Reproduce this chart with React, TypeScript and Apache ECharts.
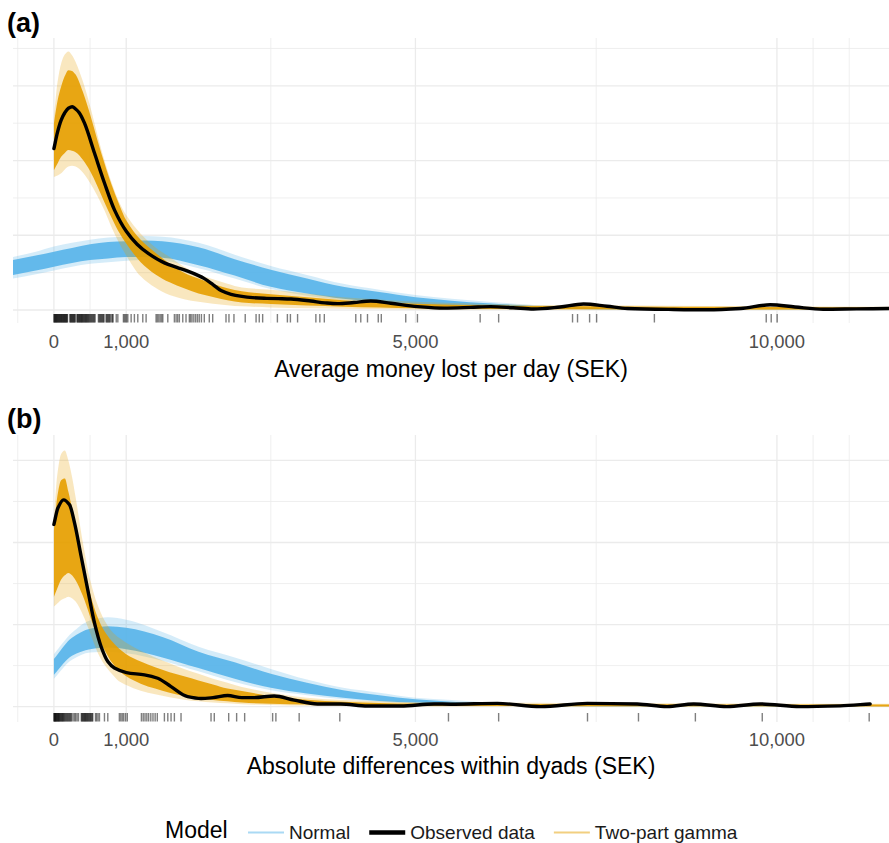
import React, { useEffect, useRef } from "react";
import * as echarts from "echarts";

const FONT = "'Liberation Sans', Arial, Helvetica, sans-serif";

// Axis ranges (SEK on x, density in arbitrary units on y)
const X_RANGE = [-566, 11550];
const Y_RANGE_A = [-0.174, 3.64];
const Y_RANGE_B = [-0.187, 3.31];

// Tick labels and grid breaks
const X_LABELS = [0, 1000, 5000, 10000];
const X_MINOR = [-500, 500, 3000, 7500, 10500, 11000];
const Y_MAJOR = [0, 1, 2, 3];
const Y_MINOR_A = [0.5, 1.5, 2.5, 3.5];
const Y_MINOR_B = [0.5, 1.5, 2.5];

// ---------- Panel (a): Average money lost per day ----------
const A_OBS_X = [0, 50, 100, 150, 200, 253, 300, 350, 423, 561, 699, 837, 1003, 1150, 1300, 1528, 1700, 1851, 2000, 2081, 2200, 2311, 2450, 2577, 2750, 2909, 3100, 3278, 3554, 3750, 3922, 4150, 4382, 4659, 5028, 5396, 5764, 6040, 6350, 6634, 7000, 7325, 7650, 7932, 8500, 9037, 9500, 9907, 10250, 10639, 11100, 11550];
const A_OBS_Y = [2.16, 2.38, 2.54, 2.64, 2.7, 2.72, 2.69, 2.64, 2.5, 2.1, 1.7, 1.34, 1.05, 0.88, 0.76, 0.63, 0.57, 0.52, 0.46, 0.42, 0.34, 0.26, 0.21, 0.185, 0.165, 0.157, 0.152, 0.147, 0.12, 0.095, 0.085, 0.1, 0.12, 0.09, 0.045, 0.025, 0.035, 0.045, 0.03, 0.013, 0.04, 0.08, 0.05, 0.02, 0.008, 0.003, 0.02, 0.07, 0.04, 0.01, 0.015, 0.02];

const A_NORM_X = [-566, -250, 0, 250, 500, 750, 1000, 1250, 1500, 2000, 2500, 3000, 3500, 4000, 4500, 5000, 5500, 6000, 7000, 8000, 9000, 10000, 11550];
const A_NORM_LO_OUT = [0.42, 0.48, 0.53, 0.58, 0.62, 0.64, 0.66, 0.67, 0.66, 0.56, 0.42, 0.28, 0.19, 0.13, 0.09, 0.06, 0.04, 0.03, 0.012, 0.004, 0.001, 0, 0];
const A_NORM_LO_CORE = [0.47, 0.53, 0.58, 0.63, 0.67, 0.69, 0.71, 0.71, 0.7, 0.6, 0.46, 0.31, 0.22, 0.15, 0.11, 0.08, 0.055, 0.04, 0.017, 0.006, 0.002, 0.001, 0];
const A_NORM_HI_CORE = [0.67, 0.73, 0.78, 0.83, 0.88, 0.91, 0.92, 0.93, 0.92, 0.84, 0.68, 0.54, 0.42, 0.31, 0.24, 0.17, 0.125, 0.09, 0.04, 0.015, 0.006, 0.002, 0.001];
const A_NORM_HI_OUT = [0.71, 0.78, 0.85, 0.9, 0.94, 0.97, 0.98, 0.99, 0.98, 0.9, 0.74, 0.59, 0.47, 0.35, 0.27, 0.2, 0.15, 0.11, 0.05, 0.02, 0.008, 0.003, 0.002];

const GAM_X = [0, 50, 100, 150, 200, 250, 300, 400, 500, 600, 700, 800, 900, 1000, 1200, 1400, 1600, 1800, 2000, 2200, 2400, 2600, 3000, 3500, 4000, 4500, 5000, 6000, 7000, 8000, 9000, 10000, 11550];
const A_GAM_HI_OUT = [2.59, 3.05, 3.3, 3.42, 3.46, 3.41, 3.32, 3.06, 2.73, 2.35, 2.0, 1.7, 1.45, 1.27, 1.02, 0.84, 0.71, 0.58, 0.48, 0.41, 0.35, 0.3, 0.27, 0.22, 0.17, 0.14, 0.11, 0.08, 0.066, 0.06, 0.055, 0.05, 0.045];
const A_GAM_HI_CORE = [2.5, 2.8, 2.99, 3.13, 3.21, 3.2, 3.15, 2.92, 2.62, 2.28, 1.96, 1.67, 1.42, 1.2, 0.94, 0.77, 0.62, 0.5, 0.42, 0.35, 0.29, 0.25, 0.21, 0.17, 0.13, 0.105, 0.085, 0.062, 0.052, 0.046, 0.042, 0.04, 0.036];
const A_GAM_LO_CORE = [1.87, 1.96, 2.05, 2.1, 2.14, 2.13, 2.11, 2.01, 1.86, 1.66, 1.44, 1.23, 1.04, 0.89, 0.64, 0.48, 0.37, 0.29, 0.22, 0.175, 0.13, 0.1, 0.08, 0.06, 0.045, 0.035, 0.025, 0.014, 0.01, 0.008, 0.006, 0.005, 0.004];
const A_GAM_LO_OUT = [1.78, 1.8, 1.83, 1.88, 1.92, 1.93, 1.92, 1.84, 1.7, 1.53, 1.33, 1.1, 0.9, 0.73, 0.45, 0.3, 0.2, 0.145, 0.11, 0.085, 0.065, 0.05, 0.035, 0.025, 0.018, 0.012, 0.008, 0.004, 0.002, 0.001, 0, 0, 0];

const A_RUG = [0, 6, 12, 18, 24, 30, 36, 42, 48, 55, 62, 68, 75, 82, 88, 95, 102, 108, 115, 122, 128, 135, 142, 148, 155, 162, 168, 175, 182, 188, 220, 228, 235, 242, 250, 258, 265, 272, 280, 288, 295, 318, 325, 332, 340, 348, 355, 362, 370, 378, 385, 392, 400, 408, 416, 424, 432, 440, 448, 456, 464, 472, 480, 490, 500, 510, 520, 530, 540, 550, 560, 570, 615, 625, 635, 645, 655, 665, 675, 685, 693, 720, 730, 740, 750, 760, 770, 780, 800, 810, 818, 862, 884, 961, 975, 990, 1005, 1022, 1068, 1113, 1160, 1229, 1275, 1413, 1430, 1450, 1470, 1490, 1506, 1575, 1666, 1690, 1712, 1735, 1782, 1827, 1873, 1890, 1910, 1935, 1960, 1985, 2010, 2040, 2080, 2149, 2196, 2380, 2421, 2490, 2646, 2796, 2840, 2887, 3091, 3229, 3271, 3370, 3623, 3678, 3740, 4175, 4244, 4337, 4486, 4528, 4866, 5028, 5895, 6151, 7173, 7242, 7409, 7506, 8305, 9852, 9921, 10003];

// ---------- Panel (b): Absolute differences within dyads ----------
const B_OBS_X = [0, 55, 133, 216, 285, 377, 469, 561, 653, 745, 837, 1003, 1252, 1436, 1620, 1850, 2035, 2200, 2403, 2600, 2771, 3047, 3323, 3646, 3968, 4337, 4797, 5257, 5488, 6133, 6731, 7376, 8066, 8480, 8848, 9309, 9769, 10322, 10874, 11289];
const B_OBS_Y = [2.22, 2.42, 2.52, 2.46, 2.24, 1.83, 1.42, 1.02, 0.73, 0.55, 0.47, 0.415, 0.387, 0.346, 0.244, 0.122, 0.1, 0.11, 0.135, 0.11, 0.11, 0.13, 0.08, 0.033, 0.033, 0.008, 0.008, 0.033, 0.03, 0.04, 0.0, 0.04, 0.033, 0.0, 0.033, 0.0, 0.033, 0.0, 0.01, 0.033];

const B_NORM_X = [0, 250, 500, 750, 1000, 1500, 2000, 2500, 3000, 3500, 4000, 4500, 5000, 5500, 6000, 7000, 8000, 9000, 11550];
const B_NORM_LO_OUT = [0.34, 0.57, 0.66, 0.67, 0.65, 0.56, 0.43, 0.3, 0.2, 0.14, 0.09, 0.06, 0.04, 0.025, 0.015, 0.005, 0.001, 0, 0];
const B_NORM_LO_CORE = [0.39, 0.62, 0.7, 0.72, 0.7, 0.6, 0.47, 0.34, 0.23, 0.16, 0.11, 0.07, 0.05, 0.03, 0.02, 0.007, 0.002, 0, 0];
const B_NORM_HI_CORE = [0.58, 0.84, 0.95, 0.98, 0.96, 0.85, 0.67, 0.54, 0.4, 0.29, 0.2, 0.14, 0.09, 0.06, 0.04, 0.015, 0.005, 0.001, 0];
const B_NORM_HI_OUT = [0.64, 0.9, 1.05, 1.09, 1.06, 0.91, 0.73, 0.6, 0.46, 0.33, 0.23, 0.17, 0.11, 0.08, 0.05, 0.02, 0.008, 0.003, 0.001];

const B_GAM_HI_OUT = [2.32, 2.85, 3.08, 3.12, 3.0, 2.8, 2.55, 2.0, 1.55, 1.25, 1.05, 0.92, 0.84, 0.78, 0.68, 0.6, 0.53, 0.46, 0.4, 0.34, 0.29, 0.24, 0.17, 0.11, 0.08, 0.065, 0.055, 0.048, 0.044, 0.04, 0.038, 0.036, 0.034];
const B_GAM_HI_CORE = [2.15, 2.58, 2.76, 2.78, 2.62, 2.42, 2.2, 1.75, 1.38, 1.1, 0.92, 0.8, 0.71, 0.64, 0.55, 0.48, 0.42, 0.37, 0.32, 0.27, 0.22, 0.19, 0.13, 0.085, 0.06, 0.046, 0.038, 0.033, 0.03, 0.028, 0.027, 0.026, 0.025];
const B_GAM_LO_CORE = [1.34, 1.45, 1.55, 1.6, 1.63, 1.6, 1.54, 1.35, 1.1, 0.87, 0.69, 0.54, 0.44, 0.37, 0.28, 0.22, 0.17, 0.13, 0.1, 0.08, 0.065, 0.05, 0.035, 0.025, 0.018, 0.013, 0.01, 0.007, 0.006, 0.005, 0.004, 0.004, 0.003];
const B_GAM_LO_OUT = [1.22, 1.26, 1.3, 1.32, 1.34, 1.32, 1.28, 1.12, 0.9, 0.67, 0.51, 0.4, 0.31, 0.265, 0.195, 0.15, 0.115, 0.085, 0.065, 0.05, 0.04, 0.03, 0.02, 0.012, 0.008, 0.005, 0.003, 0.002, 0.001, 0, 0, 0, 0];

const B_RUG = [0, 5, 10, 15, 20, 25, 30, 36, 42, 48, 54, 60, 66, 72, 78, 85, 92, 100, 108, 115, 122, 130, 138, 146, 155, 165, 175, 185, 195, 205, 215, 225, 235, 245, 265, 285, 300, 320, 340, 378, 386, 394, 402, 410, 418, 426, 434, 442, 450, 458, 466, 475, 484, 493, 502, 511, 520, 530, 538, 575, 590, 610, 630, 699, 745, 905, 925, 945, 965, 990, 1015, 1210, 1235, 1260, 1285, 1310, 1340, 1370, 1400, 1430, 1528, 1575, 1620, 1666, 1758, 2173, 2218, 2417, 2527, 2638, 3025, 3070, 3392, 3954, 5457, 6151, 7380, 8085, 8872, 9797, 11276];

// ---------- Colours ----------
const BLUE = "86,180,233";
const ORANGE = "230,159,0";
const GRID_COLOR = "#EBEBEB";
const KEY_BLUE = "#AAD9F4";
const KEY_ORANGE = "#F2CF80";

// ---------- rendering helpers (pixel-space monotone cubic through library coords) ----------
type P = number[];

function monoSegs(p: P[]) {
  const n = p.length;
  const dx: number[] = [];
  const m: number[] = [];
  for (let i = 0; i < n - 1; i++) {
    dx[i] = p[i + 1][0] - p[i][0];
    m[i] = dx[i] === 0 ? 0 : (p[i + 1][1] - p[i][1]) / dx[i];
  }
  const t: number[] = new Array(n).fill(0);
  t[0] = m[0];
  t[n - 1] = m[n - 2];
  for (let i = 1; i < n - 1; i++) {
    if (m[i - 1] * m[i] <= 0) t[i] = 0;
    else {
      const w1 = 2 * dx[i] + dx[i - 1];
      const w2 = dx[i] + 2 * dx[i - 1];
      t[i] = (w1 + w2) / (w1 / m[i - 1] + w2 / m[i]);
    }
  }
  const segs: P[][] = [];
  for (let i = 0; i < n - 1; i++) {
    const h = dx[i] / 3;
    segs.push([
      [p[i][0] + h, p[i][1] + t[i] * h],
      [p[i + 1][0] - h, p[i + 1][1] - t[i + 1] * h],
      p[i + 1],
    ]);
  }
  return segs;
}

const f = (v: number) => v.toFixed(2);
const pt = (q: P) => `${f(q[0])},${f(q[1])}`;

function linePath(p: P[]) {
  let d = `M${pt(p[0])}`;
  for (const s of monoSegs(p)) d += `C${pt(s[0])} ${pt(s[1])} ${pt(s[2])}`;
  return d;
}

function bandPath(up: P[], lo: P[]) {
  let d = linePath(up);
  d += `L${pt(lo[lo.length - 1])}`;
  const segs = monoSegs(lo);
  for (let i = segs.length - 1; i >= 0; i--) {
    const s = segs[i];
    d += `C${pt(s[1])} ${pt(s[0])} ${pt(lo[i])}`;
  }
  return d + "Z";
}

function bandSeries(g: number, xs: number[], lo: number[], hi: number[], fill: string) {
  return {
    type: "custom",
    xAxisIndex: g,
    yAxisIndex: g,
    silent: true,
    clip: true,
    z: 2,
    data: xs.map((x, i) => [x, lo[i], hi[i]]),
    renderItem: (params: any, api: any) => {
      if (params.dataIndex !== 0) return null;
      const up = xs.map((x, i) => api.coord([x, hi[i]]));
      const dn = xs.map((x, i) => api.coord([x, lo[i]]));
      return { type: "path", shape: { pathData: bandPath(up, dn) }, style: { fill, stroke: "none" } };
    },
  };
}

function curveSeries(g: number, xs: number[], ys: number[]) {
  return {
    type: "custom",
    xAxisIndex: g,
    yAxisIndex: g,
    silent: true,
    clip: true,
    z: 4,
    data: xs.map((x, i) => [x, ys[i]]),
    renderItem: (params: any, api: any) => {
      if (params.dataIndex !== 0) return null;
      const pts = xs.map((x, i) => api.coord([x, ys[i]]));
      return {
        type: "path",
        shape: { pathData: linePath(pts) },
        style: { fill: "none", stroke: "#000", lineWidth: 3.4, lineJoin: "round", lineCap: "round" },
      };
    },
  };
}

function vGrid(g: number, values: number[], width: number, yr: number[]) {
  return {
    type: "custom",
    xAxisIndex: g,
    yAxisIndex: g,
    silent: true,
    z: 1,
    data: values.map((v) => [v, 0]),
    renderItem: (_p: any, api: any) => {
      const x = api.value(0);
      const a = api.coord([x, yr[0]]);
      const b = api.coord([x, yr[1]]);
      return {
        type: "line",
        shape: { x1: a[0], y1: a[1], x2: b[0], y2: b[1] },
        style: { stroke: GRID_COLOR, lineWidth: width },
      };
    },
  };
}

function hGrid(g: number, values: number[], width: number) {
  return {
    type: "custom",
    xAxisIndex: g,
    yAxisIndex: g,
    silent: true,
    z: 1,
    data: values.map((v) => [X_RANGE[0], v]),
    renderItem: (_p: any, api: any) => {
      const y = api.value(1);
      const a = api.coord([X_RANGE[0], y]);
      const b = api.coord([X_RANGE[1], y]);
      return {
        type: "line",
        shape: { x1: a[0], y1: a[1], x2: b[0], y2: b[1] },
        style: { stroke: GRID_COLOR, lineWidth: width },
      };
    },
  };
}

function rug(g: number, values: number[], yr: number[]) {
  return {
    type: "custom",
    xAxisIndex: g,
    yAxisIndex: g,
    silent: true,
    z: 3,
    data: values.map((v) => [v, yr[0]]),
    renderItem: (_p: any, api: any) => {
      const p = api.coord([api.value(0), yr[0]]);
      return {
        type: "line",
        shape: { x1: p[0], y1: p[1] - 0.5, x2: p[0], y2: p[1] - 9 },
        style: { stroke: "rgba(0,0,0,0.5)", lineWidth: 1.4 },
      };
    },
  };
}

function panelSeries(
  g: number,
  yr: number[],
  yMinor: number[],
  obsX: number[],
  obsY: number[],
  normX: number[],
  nLoO: number[],
  nLoC: number[],
  nHiC: number[],
  nHiO: number[],
  gLoO: number[],
  gLoC: number[],
  gHiC: number[],
  gHiO: number[],
  rugVals: number[]
) {
  return [
    vGrid(g, X_MINOR, 0.8, yr),
    vGrid(g, X_LABELS, 1.3, yr),
    hGrid(g, yMinor, 0.8),
    hGrid(g, Y_MAJOR, 1.3),
    bandSeries(g, normX, nLoO, nHiO, `rgba(${BLUE},0.25)`),
    bandSeries(g, normX, nLoC, nHiC, `rgba(${BLUE},0.9)`),
    bandSeries(g, GAM_X, gLoO, gHiO, `rgba(${ORANGE},0.25)`),
    bandSeries(g, GAM_X, gLoC, gHiC, `rgba(${ORANGE},0.9)`),
    curveSeries(g, obsX, obsY),
    rug(g, rugVals, yr),
  ];
}

function xAxis(g: number, name: string, nameGap: number, margin: number) {
  return {
    type: "value",
    gridIndex: g,
    min: X_RANGE[0],
    max: X_RANGE[1],
    name,
    nameLocation: "middle",
    nameGap,
    nameTextStyle: { fontFamily: FONT, fontSize: 23, color: "#000" },
    axisLine: { show: false },
    axisTick: { show: false },
    splitLine: { show: false },
    axisLabel: {
      customValues: X_LABELS,
      margin,
      fontFamily: FONT,
      fontSize: 18.4,
      color: "#4D4D4D",
      formatter: (v: number) => v.toLocaleString("en-US"),
    },
  };
}

function yAxis(g: number, yr: number[]) {
  return {
    type: "value",
    gridIndex: g,
    min: yr[0],
    max: yr[1],
    show: false,
    splitLine: { show: false },
  };
}

// legend key icons: bounding box 36x14 with a centred bar of given thickness
const keyIcon = (th: number) =>
  `path://M0,0h0.01v0.01h-0.01z M0,${7 - th / 2}h36v${th}h-36z M35.99,13.99h0.01v0.01h-0.01z`;

function buildOption() {
  return {
    animation: false,
    backgroundColor: "#ffffff",
    grid: [
      { left: 13, top: 38, width: 876, height: 285 },
      { left: 13, top: 435, width: 876, height: 287 },
    ],
    xAxis: [
      xAxis(0, "Average money lost per day (SEK)", 34, 9),
      xAxis(1, "Absolute differences within dyads (SEK)", 32, 8),
    ],
    yAxis: [yAxis(0, Y_RANGE_A), yAxis(1, Y_RANGE_B)],
    legend: {
      left: 248,
      top: 823,
      padding: 0,
      itemWidth: 36,
      itemHeight: 14,
      itemGap: 19,
      selectedMode: false,
      textStyle: { fontFamily: FONT, fontSize: 19, color: "#1A1A1A" },
      data: [
        { name: "Normal", icon: keyIcon(2.2) },
        { name: "Observed data", icon: keyIcon(4.5) },
        { name: "Two-part gamma", icon: keyIcon(2.2) },
      ],
    },
    graphic: [
      { type: "text", x: 7, y: 23, style: { text: "(a)", fontFamily: FONT, fontSize: 27, fontWeight: "bold", fill: "#000", verticalAlign: "middle" } },
      { type: "text", x: 7, y: 419, style: { text: "(b)", fontFamily: FONT, fontSize: 27, fontWeight: "bold", fill: "#000", verticalAlign: "middle" } },
      { type: "text", x: 165, y: 830, style: { text: "Model", fontFamily: FONT, fontSize: 23, fill: "#000", verticalAlign: "middle" } },
    ],
    series: [
      { type: "line", name: "Normal", xAxisIndex: 0, yAxisIndex: 0, data: [], symbol: "none", lineStyle: { color: KEY_BLUE }, itemStyle: { color: KEY_BLUE } },
      { type: "line", name: "Observed data", xAxisIndex: 0, yAxisIndex: 0, data: [], symbol: "none", lineStyle: { color: "#000" }, itemStyle: { color: "#000" } },
      { type: "line", name: "Two-part gamma", xAxisIndex: 0, yAxisIndex: 0, data: [], symbol: "none", lineStyle: { color: KEY_ORANGE }, itemStyle: { color: KEY_ORANGE } },
      ...panelSeries(0, Y_RANGE_A, Y_MINOR_A, A_OBS_X, A_OBS_Y, A_NORM_X, A_NORM_LO_OUT, A_NORM_LO_CORE, A_NORM_HI_CORE, A_NORM_HI_OUT, A_GAM_LO_OUT, A_GAM_LO_CORE, A_GAM_HI_CORE, A_GAM_HI_OUT, A_RUG),
      ...panelSeries(1, Y_RANGE_B, Y_MINOR_B, B_OBS_X, B_OBS_Y, B_NORM_X, B_NORM_LO_OUT, B_NORM_LO_CORE, B_NORM_HI_CORE, B_NORM_HI_OUT, B_GAM_LO_OUT, B_GAM_LO_CORE, B_GAM_HI_CORE, B_GAM_HI_OUT, B_RUG),
    ],
  };
}

export default function App() {
  const ref = useRef<HTMLDivElement>(null);
  useEffect(() => {
    if (!ref.current) return;
    const chart = echarts.init(ref.current, null, { renderer: "svg" });
    chart.setOption(buildOption() as any);
    return () => chart.dispose();
  }, []);
  return (
    <div
      ref={ref}
      style={{ position: "fixed", left: 0, top: 0, width: 889, height: 843, background: "#fff" }}
    />
  );
}
